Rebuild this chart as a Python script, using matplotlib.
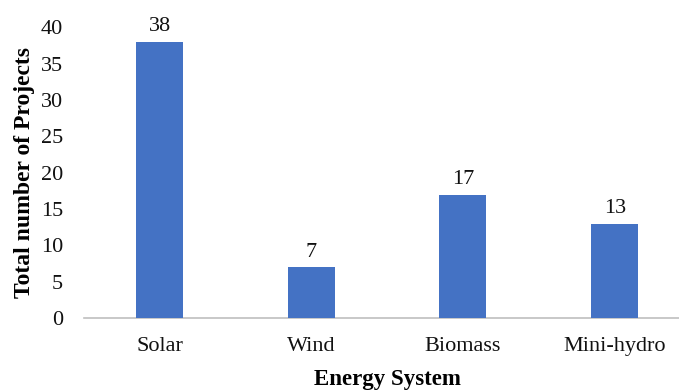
import matplotlib
matplotlib.use("Agg")
import matplotlib.pyplot as plt

categories = ["Solar", "Wind", "Biomass", "Mini-hydro"]
projects = [38, 7, 17, 13]
y_ticks = [0, 5, 10, 15, 20, 25, 30, 35, 40]

plt.rcParams["font.family"] = ["Liberation Serif", "DejaVu Serif"]

fig = plt.figure(figsize=(6.79, 3.91), dpi=100)
ax = fig.add_axes([0.1233, 1 - 318 / 391, 0.8937, (318 - 27.5) / 391])

x = range(len(categories))
bars = ax.bar(x, projects, width=0.31, color="#4472C4", zorder=3)
for rect, v in zip(bars, projects):
    ax.annotate(str(v), (rect.get_x() + rect.get_width() / 2, v),
                xytext=(0, 4), textcoords="offset points",
                ha="center", va="bottom", fontsize=16, color="#111111")

ax.set_xlim(-0.5, len(categories) - 0.5)
ax.set_ylim(0, 40)
ax.set_yticks(y_ticks)
ax.set_xticks(list(x))
ax.set_xticklabels(categories)
ax.tick_params(axis="both", length=0, labelsize=16, colors="#111111")
ax.tick_params(axis="x", pad=14)
ax.tick_params(axis="y", pad=15)

for side in ("top", "right", "left"):
    ax.spines[side].set_visible(False)
ax.spines["bottom"].set_color("#BFBFBF")
ax.spines["bottom"].set_linewidth(1.2)

ax.set_xlabel("Energy System", fontsize=16.5, fontweight="bold", labelpad=9)
ax.set_ylabel("Total number of Projects", fontsize=17, fontweight="bold", labelpad=4)

fig.savefig("out.png", dpi=100)
